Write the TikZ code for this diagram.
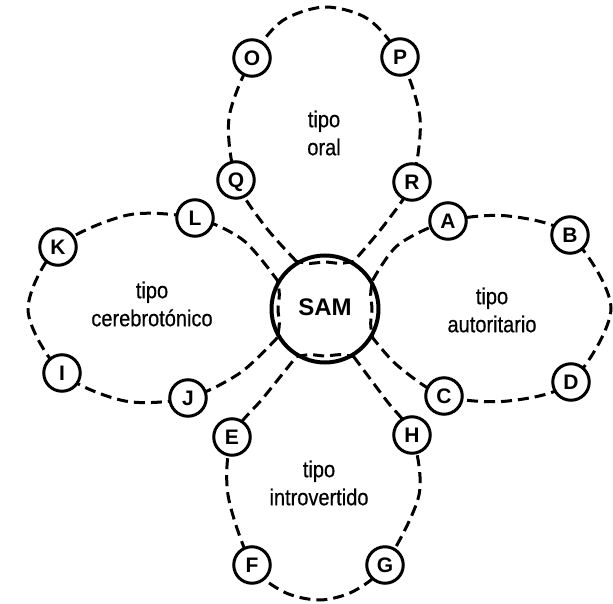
\documentclass[tikz,border=0pt]{standalone}
\usepackage{fontspec}
\setmainfont{Liberation Sans}
\newfontfamily\typefont[FakeStretch=0.87,FakeBold=0.5]{Liberation Sans}
\usetikzlibrary{calc,backgrounds}

\begin{document}
\begin{tikzpicture}[x=1pt,y=-1pt,
  member/.style={circle, draw, line width=3pt, fill=white, minimum size=36.5pt,
    inner sep=0pt, text height=15pt, text depth=0pt,
    font=\fontsize{21}{21}\selectfont\bfseries},
  hub/.style={circle, draw, line width=4pt, minimum size=107pt, inner sep=0pt,
    text height=17pt, text depth=5pt, font=\fontsize{24}{24}\selectfont\bfseries},
  typelabel/.style={align=center, inner sep=0pt,
    font=\typefont\fontsize{23}{28}\selectfont},
  ring/.style={line width=3pt, dash pattern=on 11pt off 6pt, line join=round},
]
\useasboundingbox (0,0) rectangle (613,604);

% central node
\node[hub] (SAM) at (325,309) {SAM};

% members of the oral type
\node[member] (O) at (252,58)  {O};
\node[member] (P) at (400,57)  {P};
\node[member] (Q) at (236,180) {Q};
\node[member] (R) at (412,182) {R};
% members of the authoritarian type
\node[member] (A) at (448,221) {A};
\node[member] (B) at (570,235) {B};
\node[member] (C) at (444,396) {C};
\node[member] (D) at (571,382) {D};
% members of the introverted type
\node[member] (E) at (232,437) {E};
\node[member] (H) at (412,435) {H};
\node[member] (F) at (252,565) {F};
\node[member] (G) at (385,565) {G};
% members of the cerebrotonic type
\node[member] (L) at (195,218) {L};
\node[member] (K) at (58,247)  {K};
\node[member] (I) at (62,373)  {I};
\node[member] (J) at (188,398) {J};

% type labels
\node[typelabel] (oral)  at (324,133) {tipo\\oral};
\node[typelabel] (cereb) at (152,304) {tipo\\cerebrotónico};
\node[typelabel] (auto)  at (492,310) {tipo\\autoritario};
\node[typelabel] (intro) at (319,483) {tipo\\introvertido};

% where each loop dips into the central circle
\foreach \n/\a in {top/270, right/0, bottom/90, left/180}{
  \coordinate (\n-a) at ($(SAM.center)+({\a+31}:55.5)$);
  \coordinate (\n-b) at ($(SAM.center)+({\a+18}:48)$);
  \coordinate (\n-c) at ($(SAM.center)+(\a:47)$);
  \coordinate (\n-d) at ($(SAM.center)+({\a-18}:48)$);
  \coordinate (\n-e) at ($(SAM.center)+({\a-31}:55.5)$);
}

% dashed loops, kept behind the nodes
\begin{pgfonlayer}{background}
  \draw[ring] plot[smooth] coordinates {(top-e) (264,225) (Q) (229,118) (O)
      (282,21) (325,7) (368,19) (P) (420,118) (R) (385,224) (top-a)}
    -- plot[smooth] coordinates {(top-a) (top-b) (top-c) (top-d) (top-e)} -- cycle;
  \draw[ring] plot[smooth] coordinates {(right-e) (398,245) (A) (508,216) (B)
      (611,308) (D) (508,401) (C) (398,366) (right-a)}
    -- plot[smooth] coordinates {(right-a) (right-b) (right-c) (right-d) (right-e)} -- cycle;
  \draw[ring] plot[smooth] coordinates {(bottom-e) (386,400) (H) (419,495) (G)
      (354,591) (320,600) (284,592) (F) (228,495) (E) (264,397) (bottom-a)}
    -- plot[smooth] coordinates {(bottom-a) (bottom-b) (bottom-c) (bottom-d) (bottom-e)} -- cycle;
  \draw[ring] plot[smooth] coordinates {(left-e) (240,373) (J) (125,401) (I)
      (28,310) (K) (128,215) (L) (243,240) (left-a)}
    -- plot[smooth] coordinates {(left-a) (left-b) (left-c) (left-d) (left-e)} -- cycle;
\end{pgfonlayer}
\end{tikzpicture}
\end{document}
